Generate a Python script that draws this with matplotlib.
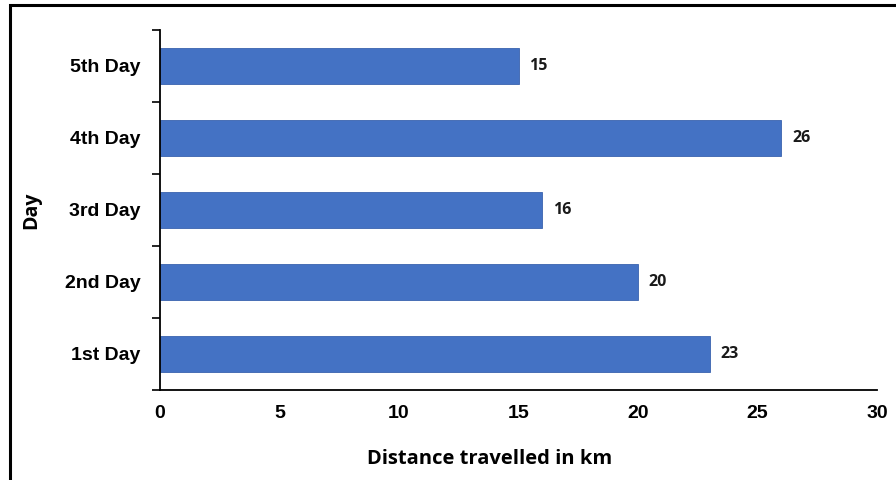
import matplotlib.pyplot as plt
import matplotlib.patches as patches
import numpy as np

# Data
days = ['1st Day', '2nd Day', '3rd Day', '4th Day', '5th Day']
distance_km = [23, 20, 16, 26, 15]
x_ticks = [0, 5, 10, 15, 20, 25, 30]

fig = plt.figure(figsize=(8.96, 4.8), dpi=100)
ax = fig.add_axes([160 / 896, 90 / 480, 717 / 896, 360 / 480])

ypos = np.arange(len(days))
bars = ax.barh(ypos, distance_km, height=0.49, color='#4472C4', edgecolor='#3a63ae', linewidth=0.6)

# value labels
for y, v in zip(ypos, distance_km):
    ax.text(v + 0.45, y, str(v), va='center', ha='left', fontsize=11.5,
            fontweight='bold', family='Open Sans', color='#1a1a1a')

ax.set_xlim(0, 30)
ax.set_ylim(-0.5, len(days) - 0.5)
ax.set_xticks(x_ticks)
ax.set_xticklabels([str(t) for t in x_ticks], fontsize=14, fontweight='bold',
                   family='Liberation Sans')
ax.set_yticks(ypos)
ax.set_yticklabels(days, fontsize=14, fontweight='bold', family='Liberation Sans')
ax.set_yticks(np.arange(-0.5, len(days)), minor=True)

ax.tick_params(axis='x', length=0, pad=11)
ax.tick_params(axis='y', which='major', length=0, pad=14)
ax.tick_params(axis='y', which='minor', length=6, width=1.2, direction='out')

for side in ['top', 'right']:
    ax.spines[side].set_visible(False)
for side in ['left', 'bottom']:
    ax.spines[side].set_linewidth(1.3)

ax.set_xlabel('Distance travelled in km', fontsize=14.5, fontweight='bold', family='Open Sans')
ax.xaxis.set_label_coords(0.46, -0.165)
ax.set_ylabel('Day', fontsize=14, fontweight='bold', family='Open Sans')
ax.yaxis.set_label_coords(-0.165, 0.5)

# outer frame (cropped screenshot)
frame = patches.Rectangle((10 / 896, -0.2), 1.2, 1.2 - 5 / 480,
                          transform=fig.transFigure, fill=False,
                          edgecolor='black', linewidth=2.2, clip_on=False)
fig.patches.append(frame)

fig.savefig('out.png', dpi=100)
